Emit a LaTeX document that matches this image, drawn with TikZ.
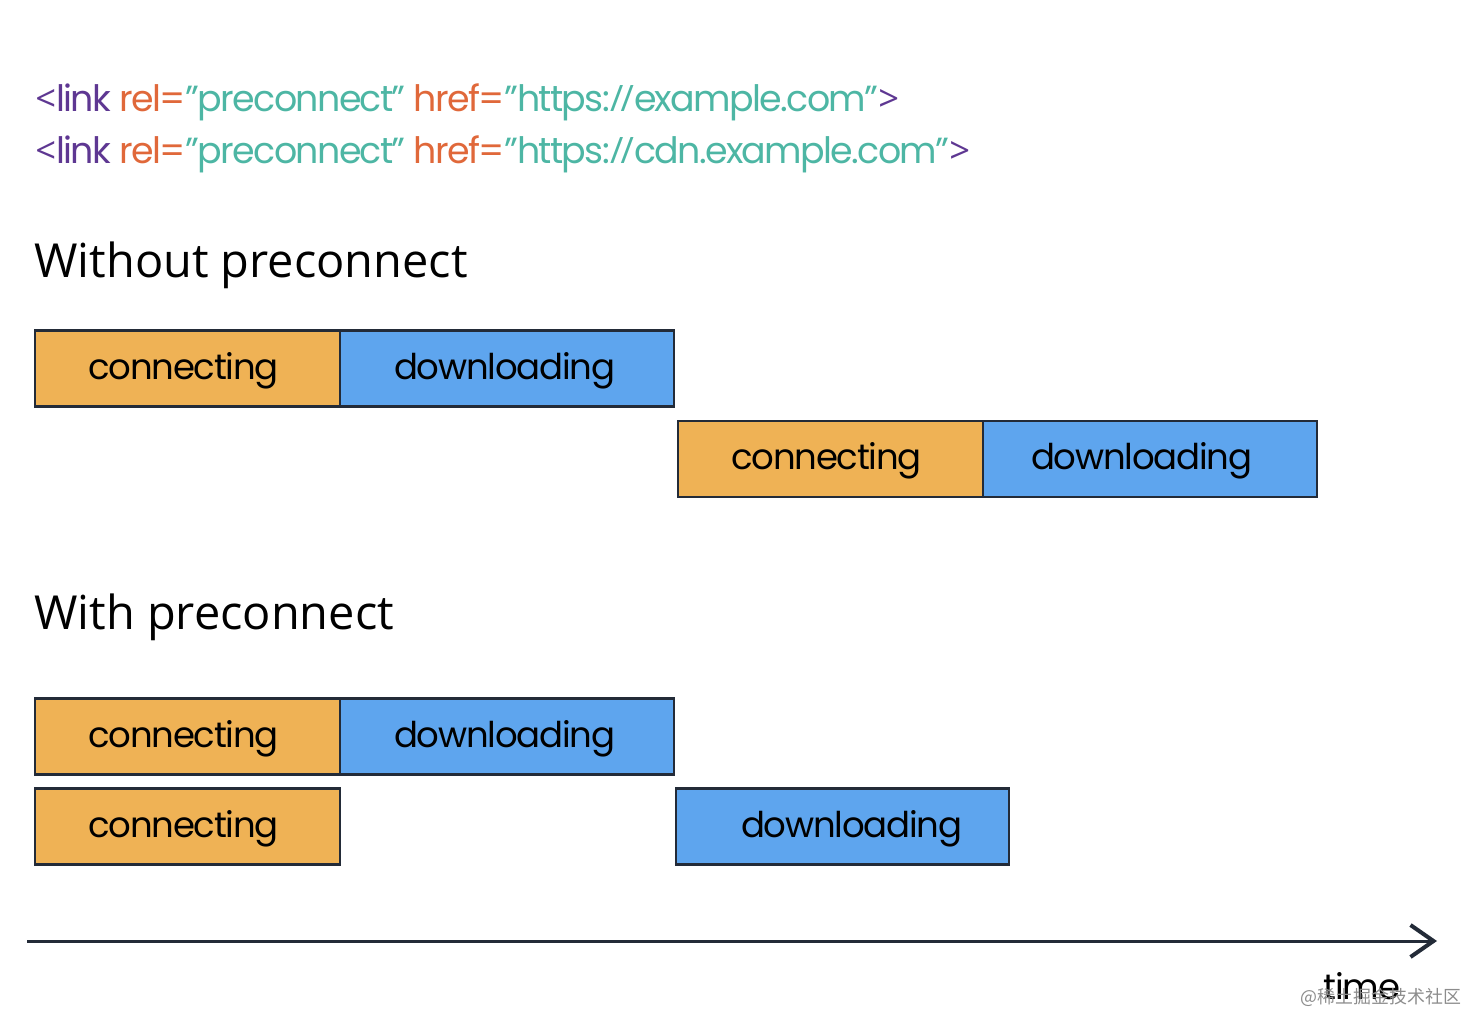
\documentclass[tikz,border=0pt]{standalone}
\usepackage{fontspec}
\setmainfont{Open Sans}
\newfontfamily\gsans[LetterSpace=-3.5]{Poppins}
\newfontfamily\gcode[LetterSpace=-4.5]{Poppins}
\newfontfamily\cjk{Noto Sans CJK SC}
\usetikzlibrary{arrows.meta}
\definecolor{tagC}{HTML}{5E3792}
\definecolor{attrC}{HTML}{E0683A}
\definecolor{valC}{HTML}{4DB6A4}
\definecolor{connC}{HTML}{EFB255}
\definecolor{downC}{HTML}{5EA5EE}
\definecolor{lineC}{HTML}{232B38}
\newcommand{\linkline}[1]{\textcolor{tagC}{{\rmfamily<}link} \textcolor{attrC}{rel=}\textcolor{valC}{”preconnect”} \textcolor{attrC}{href=}\textcolor{valC}{”https:{\rmfamily/\kern-1.5pt/}#1”}\textcolor{tagC}{\rmfamily>}}
\begin{document}
\begin{tikzpicture}
  [x=0.02cm,y=-0.02cm,
   connN/.style={draw=lineC,line width=0.042cm,fill=connC,minimum width=6.10cm,minimum height=1.52cm,inner sep=0},
   downN/.style={draw=lineC,line width=0.042cm,fill=downC,minimum width=6.67cm,minimum height=1.52cm,inner sep=0},
   barN/.style={anchor=base,font=\gsans\fontsize{20.2}{24}\selectfont},
   headN/.style={anchor=base west,inner sep=0,font=\fontsize{26.7}{30}\selectfont},
   codeN/.style={anchor=base west,inner sep=0,font=\gcode\fontsize{20.7}{24}\selectfont}]

  \useasboundingbox (0,0) rectangle (1468,1014);

  \node[codeN] (code1) at (35,111) {\linkline{example.com}};
  \node[codeN] (code2) at (35,163) {\linkline{cdn.example.com}};

  \node[headN] (without) at (34,277) {Without preconnect};
  \node[headN] (with)    at (34,629) {With preconnect};

  % without preconnect
  \node[connN] (c1) at  (187.5,368.5) {};
  \node[downN] (d1) at  (507,368.5) {};
  \node[connN] (c2) at  (830.5,459) {};
  \node[downN] (d2) at (1150,459) {};

  % with preconnect
  \node[connN] (c3) at (187.5,736.5) {};
  \node[downN] (d3) at  (507,736.5) {};
  \node[connN] (c4) at (187.5,826.5) {};
  \node[downN] (d4) at  (842.5,826.5) {};

  \node[barN] (tc1) at  (183.5,379) {connecting};
  \node[barN] (td1) at  (504.5,379) {downloading};
  \node[barN] (tc2) at  (826.5,469) {connecting};
  \node[barN] (td2) at (1141.5,469) {downloading};
  \node[barN] (tc3) at  (183.5,747) {connecting};
  \node[barN] (td3) at  (504.5,747) {downloading};
  \node[barN] (tc4) at  (183.5,837) {connecting};
  \node[barN] (td4) at  (851.5,837) {downloading};

  \coordinate (tstart) at (27,941);
  \coordinate (tend) at (1437,941);
  \draw[lineC,line width=0.06cm,-{Straight Barb[length=0.46cm,width=0.64cm,line width=0.08cm]}] (tstart) -- (tend);

  \node[barN] (time) at (1362,999) {time};
  \node[anchor=base,inner sep=0,text=black!45,font=\cjk\fontsize{10.2}{12}\selectfont] (mark) at (1381,1003) {@稀土掘金技术社区};
\end{tikzpicture}
\end{document}
